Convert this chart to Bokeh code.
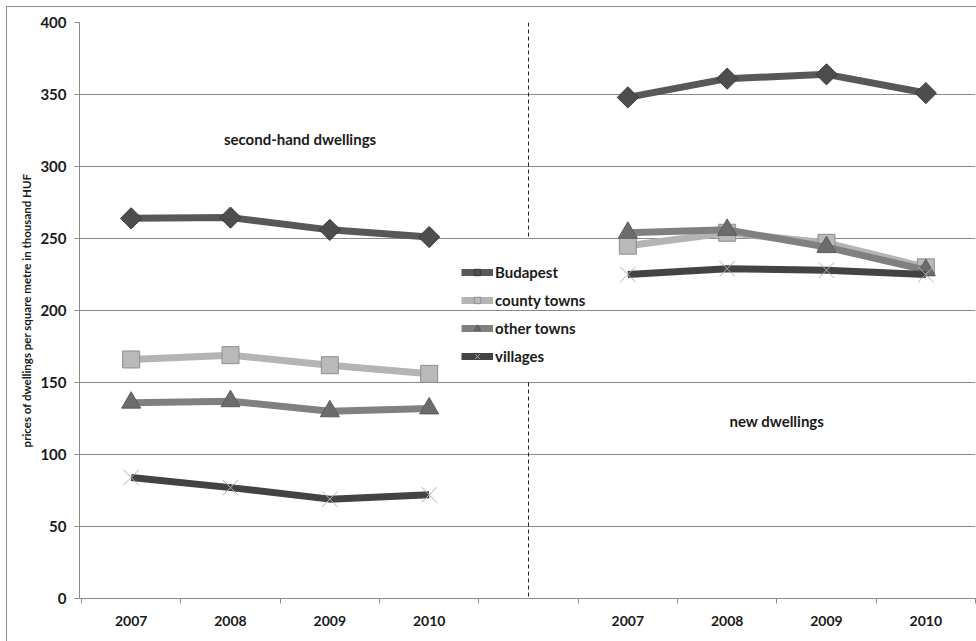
from math import nan, pi

from bokeh.embed import file_html
from bokeh.models import ColumnDataSource, FixedTicker, Label, Legend, LegendItem, Range1d, Segment
from bokeh.plotting import figure
from bokeh.resources import INLINE

# Category slots along the x axis: second-hand years, an empty separator slot, new-dwelling years
years = ["2007", "2008", "2009", "2010"]
categories = years + [""] + years

# Prices of dwellings per square metre (thousand HUF)
budapest_second = [264, 264.5, 256, 251]
budapest_new = [348, 361, 364, 351]
county_second = [166, 169, 162, 156]
county_new = [245, 254, 247, 230]
other_second = [136, 137, 130, 132]
other_new = [254, 256, 244, 228]
villages_second = [84, 77, 69, 72]
villages_new = [225, 229, 228, 225]

y_ticks = [0, 50, 100, 150, 200, 250, 300, 350, 400]

FONT = "Lato"
GRID = "#8a8a8a"
TEXT = "#1a1a1a"

xs = [i + 0.5 for i in range(len(categories))]
label_pos = [x for x, c in zip(xs, categories) if c]
boundaries = list(range(0, len(categories) + 1))


def joined(second, new):
    # NaN in the separator slot breaks the line between the two groups
    return second + [nan] + new


p = figure(
    width=970, height=635,
    output_backend="svg", toolbar_location=None,
    x_range=Range1d(-0.02, len(categories)), y_range=Range1d(0, 400),
    min_border_left=72, min_border_right=2, min_border_top=15, min_border_bottom=44,
)
p.margin = (6, 0, 0, 6)
p.styles = {"border-left": "1px solid #8c8c8c", "border-top": "1px solid #8c8c8c"}
p.outline_line_color = None
p.background_fill_color = "white"
p.border_fill_color = "white"

# y axis
p.yaxis.ticker = FixedTicker(ticks=y_ticks)
p.yaxis.axis_line_color = GRID
p.yaxis.major_tick_line_color = GRID
p.yaxis.major_tick_out = 5
p.yaxis.major_tick_in = 0
p.yaxis.minor_tick_line_color = None
p.yaxis.major_label_text_font = FONT
p.yaxis.major_label_text_font_style = "bold"
p.yaxis.major_label_text_font_size = "15px"
p.yaxis.major_label_text_color = TEXT
p.yaxis.major_label_standoff = 8
p.yaxis.axis_label = "prices of dwellings per square metre in thousand HUF"
p.yaxis.axis_label_text_font = FONT
p.yaxis.axis_label_text_font_style = "bold"
p.yaxis.axis_label_text_font_size = "11.5px"
p.yaxis.axis_label_text_color = TEXT
p.yaxis.axis_label_standoff = 4

# x axis: labels at slot centres, tick marks at slot boundaries
p.xaxis.ticker = FixedTicker(ticks=label_pos, minor_ticks=boundaries)
p.xaxis.major_label_overrides = {x: c for x, c in zip(xs, categories) if c}
p.xaxis.axis_line_color = GRID
p.xaxis.major_tick_line_color = None
p.xaxis.minor_tick_line_color = GRID
p.xaxis.minor_tick_out = 5
p.xaxis.minor_tick_in = 0
p.xaxis.major_label_text_font = FONT
p.xaxis.major_label_text_font_style = "bold"
p.xaxis.major_label_text_font_size = "14px"
p.xaxis.major_label_text_color = TEXT
p.xaxis.major_label_standoff = 11

p.xgrid.grid_line_color = None
p.ygrid.ticker = FixedTicker(ticks=y_ticks)
p.ygrid.grid_line_color = GRID
p.ygrid.grid_line_width = 1

# dashed divider between second-hand and new dwellings
divider = ColumnDataSource(dict(x0=[4.5, 4.5], y0=[400, 150], x1=[4.5, 4.5], y1=[250, 0]))
p.add_glyph(divider, Segment(x0="x0", y0="y0", x1="x1", y1="y1",
                             line_color="#222222", line_width=1, line_dash="4 3"))

series = [
    ("Budapest", budapest_second, budapest_new, "#585858",
     dict(marker="square", size=15, angle=pi / 4, fill_color="#4d4d4d", line_color="#3a3a3a", line_width=1)),
    ("county towns", county_second, county_new, "#b4b4b4",
     dict(marker="square", size=17, fill_color="#b9b9b9", line_color="#8e8e8e", line_width=1)),
    ("other towns", other_second, other_new, "#808080",
     dict(marker="triangle", size=19, fill_color="#6c6c6c", line_color="#5a5a5a", line_width=1)),
    ("villages", villages_second, villages_new, "#434343",
     dict(marker="x", size=22, line_color="#b0b0b0", line_width=1)),
]

items = []
for name, second, new, color, mk in series:
    src = ColumnDataSource(dict(x=xs, y=joined(second, new)))
    ln = p.line("x", "y", source=src, line_color=color, line_width=7, line_join="round")
    sc = p.scatter("x", "y", source=src, **mk)
    items.append(LegendItem(label=name, renderers=[ln, sc]))

legend = Legend(
    items=items, location=(382, 233),
    background_fill_alpha=0, border_line_color=None,
    label_text_font=FONT, label_text_font_style="bold", label_text_font_size="15px",
    label_text_color=TEXT, glyph_width=32, glyph_height=16,
    label_standoff=2, spacing=10, padding=2, margin=0,
)
p.add_layout(legend, "center")

p.add_layout(Label(x=2.2, y=319, text="second-hand dwellings", text_align="center",
                   text_baseline="middle", text_font=FONT, text_font_style="bold",
                   text_font_size="15px", text_color=TEXT))
p.add_layout(Label(x=7.0, y=123, text="new dwellings", text_align="center",
                   text_baseline="middle", text_font=FONT, text_font_style="bold",
                   text_font_size="15px", text_color=TEXT))

open("out.html", "w").write(file_html(p, INLINE))
